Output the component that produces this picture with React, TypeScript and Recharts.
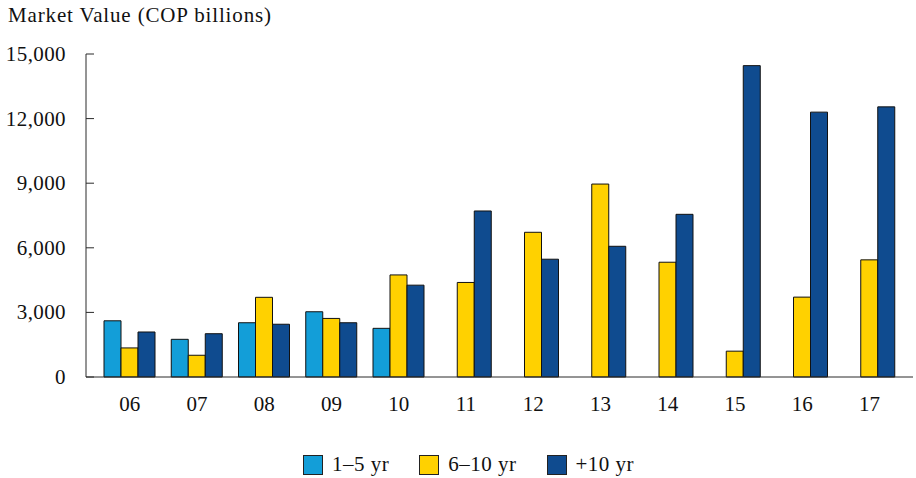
import React from 'react';
import { BarChart, Bar, XAxis, YAxis, Legend } from 'recharts';

const years = ['06', '07', '08', '09', '10', '11', '12', '13', '14', '15', '16', '17'];
const shortTerm = [2610, 1750, 2520, 3030, 2260, null, null, null, null, null, null, null];
const midTerm = [1350, 1010, 3700, 2720, 4740, 4390, 6720, 8960, 5330, 1200, 3710, 5440];
const longTerm = [2090, 2010, 2450, 2520, 4265, 7710, 5470, 6070, 7555, 14460, 12300, 12545];
const yTicks = [0, 3000, 6000, 9000, 12000, 15000];

const FONT = '"Liberation Serif", "DejaVu Serif", serif';
const AXIS = '#2a2a2a';

const series = [
  { key: 'shortTerm', name: '1–5 yr', color: '#139ed8' },
  { key: 'midTerm', name: '6–10 yr', color: '#ffd100' },
  { key: 'longTerm', name: '+10 yr', color: '#0f4b8f' },
];

const data = years.map((year, i) => ({
  year,
  shortTerm: shortTerm[i],
  midTerm: midTerm[i],
  longTerm: longTerm[i],
}));

const YTick = (props: any) => {
  const { x, y, payload } = props;
  return (
    <g>
      <line x1={x + 20} x2={x + 28} y1={y} y2={y} stroke={AXIS} strokeWidth={1} />
      <text x={x} y={y} dy={7} textAnchor="end" fontFamily={FONT} fontSize={21} fill="#111" letterSpacing={0.4}>
        {payload.value.toLocaleString('en-US')}
      </text>
    </g>
  );
};

const LegendContent = () => (
  <div style={{ display: 'flex', alignItems: 'center', paddingLeft: 303, paddingTop: 27, fontFamily: FONT, fontSize: 21, color: '#111', letterSpacing: 0.5 }}>
    {series.map((s) => (
      <div key={s.key} style={{ display: 'flex', alignItems: 'center', marginRight: 30 }}>
        <span style={{ width: 18, height: 18, background: s.color, border: '1px solid #222', marginRight: 9 }} />
        <span>{s.name}</span>
      </div>
    ))}
  </div>
);

export default function App() {
  return (
    <div style={{ position: 'absolute', left: 0, top: 0, width: 916, height: 478, background: '#fff' }}>
      <div style={{ position: 'absolute', left: 8, top: 3, fontFamily: FONT, fontSize: 21, color: '#111', letterSpacing: 0.85 }}>
        Market Value (COP billions)
      </div>
      <BarChart
        width={916}
        height={478}
        data={data}
        margin={{ top: 54, right: 3, left: 8, bottom: 0 }}
        barSize={17}
        barGap={0}
      >
        <XAxis
          dataKey="year"
          padding={{ left: 10, right: 10 }}
          axisLine={{ stroke: AXIS }}
          tickLine={false}
          tickSize={0}
          tickMargin={19}
          height={48}
          tick={{ fontFamily: FONT, fontSize: 21, fill: '#111' }}
        />
        <XAxis xAxisId="top" orientation="top" dataKey="year" height={0} tick={false} tickLine={false} axisLine={{ stroke: AXIS }} />
        <YAxis
          domain={[0, 15000]}
          ticks={yTicks}
          width={78}
          axisLine={{ stroke: AXIS }}
          tickLine={false}
          tickSize={0}
          tickMargin={20}
          tick={<YTick />}
          interval={0}
        />
        <YAxis yAxisId="right" orientation="right" width={0} tick={false} tickLine={false} axisLine={{ stroke: AXIS }} />
        <Legend verticalAlign="bottom" height={53} content={<LegendContent />} wrapperStyle={{ left: 0, width: 916, bottom: 0, height: 53 }} />
        {series.map((s) => (
          <Bar key={s.key} dataKey={s.key} name={s.name} fill={s.color} stroke="#111" strokeWidth={1} isAnimationActive={false} />
        ))}
      </BarChart>
    </div>
  );
}
